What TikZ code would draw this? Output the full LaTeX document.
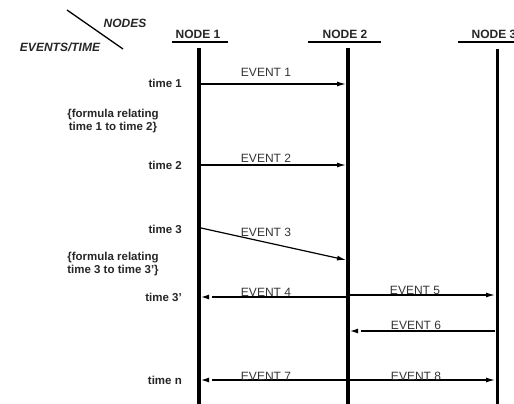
\documentclass[tikz,border=0pt]{standalone}
\usepackage{fontspec}
\setmainfont{Liberation Sans}
\usetikzlibrary{arrows.meta,calc}
\begin{document}
\begin{tikzpicture}[x=1pt,y=-1pt,
  lifeline/.style={line width=3.5pt},
  thinlife/.style={line width=3pt},
  uline/.style={line width=1.3pt},
  hdr/.style={font=\fontsize{12}{14}\selectfont\bfseries, text=black!85, inner sep=0pt},
  corner/.style={font=\fontsize{12}{14}\selectfont\bfseries\itshape, text=black!85, inner sep=0pt},
  evlbl/.style={font=\fontsize{12}{14}\selectfont, text=black!80, inner sep=0pt},
  tlbl/.style={font=\fontsize{11.5}{13}\selectfont\bfseries, text=black!85, anchor=east, inner sep=0pt},
  flbl/.style={font=\fontsize{11.5}{13}\selectfont\bfseries, text=black!85, align=center, inner sep=0pt},
  ev/.style={line width=1.2pt, -{Latex[length=9pt,width=5pt]}},
  evline/.style={line width=1.2pt, shorten >=11pt},
  evtip/.style={line width=1.2pt, -{Latex[length=8pt,width=5pt]}},
]
\path[use as bounding box, clip] (0,0) rectangle (514,404);

% corner header
\coordinate (dgA) at (67,10);
\coordinate (dgB) at (123,49);
\draw[uline] (dgA) -- (dgB);
\node[corner] (nodes) at (125,23) {NODES};
\node[corner] (evtime) at (60,47) {EVENTS/TIME};

% node headers
\node[hdr] (h1) at (198,34) {NODE 1};
\node[hdr] (h2) at (345,34) {NODE 2};
\node[hdr] (h3) at (494,34) {NODE 3};
\coordinate (u1a) at (172,42); \coordinate (u1b) at (228,42);
\coordinate (u2a) at (308,42); \coordinate (u2b) at (381,42);
\coordinate (u3a) at (458,42); \coordinate (u3b) at (531,42);
\draw[uline] (u1a) -- (u1b);
\draw[uline] (u2a) -- (u2b);
\draw[uline] (u3a) -- (u3b);

% lifelines
\coordinate (n1top) at (199,48); \coordinate (n1bot) at (199,410);
\coordinate (n2top) at (348,48); \coordinate (n2bot) at (348,410);
\coordinate (n3top) at (497,49); \coordinate (n3bot) at (497,410);
\draw[lifeline] (n1top) -- (n1bot);
\draw[lifeline] (n2top) -- (n2bot);
\draw[thinlife] (n3top) -- (n3bot);

% time labels
\node[tlbl] (t1) at (182,83) {time 1};
\node[tlbl] (t2) at (182,165) {time 2};
\node[tlbl] (t3) at (182,229) {time 3};
\node[tlbl] (t3p) at (182,297) {time 3'};
\node[tlbl] (tn) at (182,380) {time n};
\node[flbl] (f1) at (113,121) {\{formula relating\\time 1 to time 2\}};
\node[flbl] (f2) at (113,264) {\{formula relating\\time 3 to time 3'\}};

% event end points
\coordinate (e1s) at (201,84);  \coordinate (e1t) at (346,84);
\coordinate (e2s) at (201,165); \coordinate (e2t) at (346,165);
\coordinate (e3s) at (201,228); \coordinate (e3t) at (346,260);
\coordinate (e4s) at (346,297); \coordinate (e4t) at (201,297);
\coordinate (e5s) at (350,295); \coordinate (e5t) at (495,295);
\coordinate (e6s) at (495,331); \coordinate (e6t) at (350,331);
\coordinate (e7s) at (346,380); \coordinate (e7t) at (201,380);
\coordinate (e8s) at (350,380); \coordinate (e8t) at (495,380);

% events to the right
\draw[ev] (e1s) -- (e1t);
\draw[ev] (e2s) -- (e2t);
\draw[ev] (e3s) -- (e3t);
\draw[ev] (e5s) -- (e5t);
\draw[ev] (e8s) -- (e8t);
% events to the left (tip set slightly apart)
\draw[evline] (e4s) -- (e4t);
\draw[evtip] ($(e4t)+(8,0)$) -- (e4t);
\draw[evline] (e6s) -- (e6t);
\draw[evtip] ($(e6t)+(8,0)$) -- (e6t);
\draw[evline] (e7s) -- (e7t);
\draw[evtip] ($(e7t)+(8,0)$) -- (e7t);

% event labels
\node[evlbl] (l1) at (266,72) {EVENT 1};
\node[evlbl] (l2) at (266,158) {EVENT 2};
\node[evlbl] (l3) at (266,232) {EVENT 3};
\node[evlbl] (l4) at (266,292) {EVENT 4};
\node[evlbl] (l5) at (415,290) {EVENT 5};
\node[evlbl] (l6) at (416,325) {EVENT 6};
\node[evlbl] (l7) at (266,376) {EVENT 7};
\node[evlbl] (l8) at (416,376) {EVENT 8};
\end{tikzpicture}
\end{document}
